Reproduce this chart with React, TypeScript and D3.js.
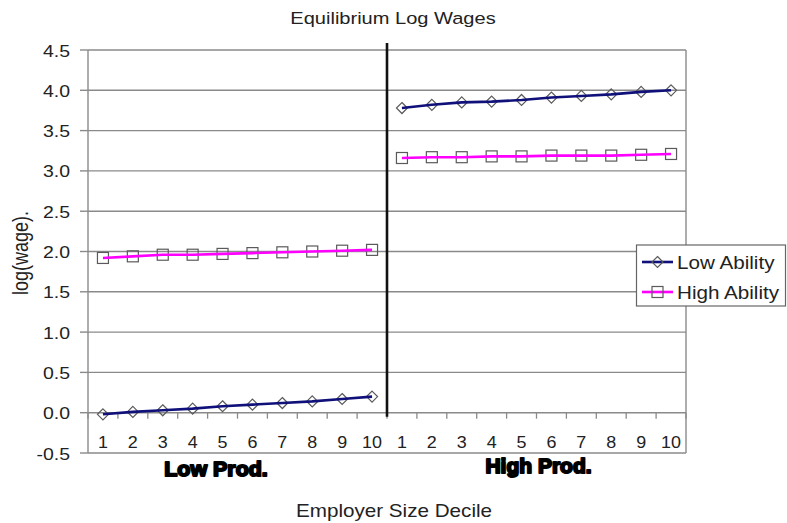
import React from "react";
import * as d3 from "d3";

const deciles = ["1", "2", "3", "4", "5", "6", "7", "8", "9", "10"];
const panels = ["Low Prod.", "High Prod."];
const lowProdLowAbility = [-0.02, 0.01, 0.03, 0.05, 0.08, 0.1, 0.12, 0.14, 0.17, 0.2];
const lowProdHighAbility = [1.92, 1.94, 1.96, 1.96, 1.97, 1.98, 1.99, 2.0, 2.01, 2.02];
const highProdLowAbility = [3.78, 3.82, 3.85, 3.86, 3.88, 3.91, 3.93, 3.95, 3.98, 4.0];
const highProdHighAbility = [3.16, 3.17, 3.17, 3.18, 3.18, 3.19, 3.19, 3.19, 3.2, 3.21];
const yTicks = [-0.5, 0, 0.5, 1, 1.5, 2, 2.5, 3, 3.5, 4, 4.5];
const seriesNames = ["Low Ability", "High Ability"];

const W = 787;
const H = 523;
const FONT = "'Liberation Sans', Arial, sans-serif";
const NAVY = "#10107a";
const MAGENTA = "#ff00ff";
const GRID = "#8a8a8a";
const MARK = "#5a5a5a";

const keys = [...deciles.map((d) => "L" + d), ...deciles.map((d) => "H" + d)];

function T(props: any) {
  const { x, y, size, anchor = "start", weight = 400, sx = 1.18, children, fill = "#222", stroke, sw } = props;
  return (
    <text
      transform={`translate(${x},${y}) scale(${sx},1)`}
      fontSize={size}
      fontFamily={FONT}
      fontWeight={weight}
      textAnchor={anchor}
      fill={fill}
      stroke={stroke}
      strokeWidth={sw}
      strokeLinejoin="round"
    >
      {children}
    </text>
  );
}

function Diamond({ cx, cy }: { cx: number; cy: number }) {
  const r = 5.5;
  return (
    <path
      d={`M${cx},${cy - r}L${cx + r},${cy}L${cx},${cy + r}L${cx - r},${cy}Z`}
      fill="none"
      stroke={MARK}
      strokeWidth={1.2}
    />
  );
}
function Square({ cx, cy }: { cx: number; cy: number }) {
  const r = 5.5;
  return <rect x={cx - r} y={cy - r} width={2 * r} height={2 * r} fill="none" stroke={MARK} strokeWidth={1.2} />;
}

export default function App() {
  const x = d3.scaleBand<string>().domain(keys).range([88, 686]).padding(0);
  const y = d3.scaleLinear().domain([-0.5, 4.5]).range([453, 50]);
  const cx = (k: string) => (x(k) as number) + x.bandwidth() / 2;

  const line = d3
    .line<[string, number]>()
    .x((d) => cx(d[0]))
    .y((d) => y(d[1]));

  const series = [
    { keys: deciles.map((d) => "L" + d), vals: lowProdLowAbility, color: NAVY, m: "d" },
    { keys: deciles.map((d) => "H" + d), vals: highProdLowAbility, color: NAVY, m: "d" },
    { keys: deciles.map((d) => "L" + d), vals: lowProdHighAbility, color: MAGENTA, m: "s" },
    { keys: deciles.map((d) => "H" + d), vals: highProdHighAbility, color: MAGENTA, m: "s" },
  ];

  const left = x.range()[0];
  const right = x.range()[1];
  const divX = x("H1") as number;
  const boundaries = d3.range(0, keys.length + 1).map((i) => left + i * x.bandwidth());

  return (
    <svg width={W} height={H} style={{ position: "absolute", left: 0, top: 0, background: "#fff" }}>
      <rect width={W} height={H} fill="#fff" />
      {yTicks.map((t) => (
        <line key={t} x1={left} x2={right} y1={y(t)} y2={y(t)} stroke={GRID} strokeWidth={1.4} />
      ))}
      {yTicks.map((t) => (
        <line key={"yt" + t} x1={left - 8} x2={left} y1={y(t)} y2={y(t)} stroke={GRID} strokeWidth={1.4} />
      ))}
      <line x1={left} x2={left} y1={y(4.5)} y2={y(-0.5)} stroke={GRID} strokeWidth={1.4} />
      <line x1={right} x2={right} y1={y(4.5)} y2={y(-0.5)} stroke={GRID} strokeWidth={1.4} />
      {boundaries.map((b, i) => (
        <line key={"xt" + i} x1={b} x2={b} y1={y(0)} y2={y(0) + 6} stroke={GRID} strokeWidth={1.3} />
      ))}
      <line x1={divX} x2={divX} y1={y(4.5) - 7} y2={y(0) + 4} stroke="#111" strokeWidth={2.6} />
      {yTicks.map((t) => (
        <T key={"yl" + t} x={70} y={y(t) + 6.5} size={16.5} anchor="end">
          {t.toFixed(1)}
        </T>
      ))}
      {keys.map((k) => (
        <T key={"xl" + k} x={cx(k)} y={447.5} size={16} anchor="middle" sx={1.12}>
          {k.slice(1)}
        </T>
      ))}
      <T x={216} y={476} size={21} weight={900} anchor="middle" sx={1.02} fill="#000" stroke="#000" sw={2}>
        {panels[0]}
      </T>
      <T x={538.5} y={473} size={21} weight={900} anchor="middle" sx={1.0} fill="#000" stroke="#000" sw={2}>
        {panels[1]}
      </T>
      {series.map((s, i) => {
        const pts = s.keys.map((k, j) => [k, s.vals[j]] as [string, number]);
        return (
          <g key={"s" + i}>
            {pts.map((p, j) =>
              s.m === "d" ? (
                <Diamond key={j} cx={cx(p[0])} cy={y(p[1])} />
              ) : (
                <Square key={j} cx={cx(p[0])} cy={y(p[1])} />
              )
            )}
            <path d={line(pts) || ""} fill="none" stroke={s.color} strokeWidth={2.6} />
          </g>
        );
      })}
      <T x={393} y={24} size={17} anchor="middle">
        Equilibrium Log Wages
      </T>
      <T x={394} y={517} size={17.5} anchor="middle">
        Employer Size Decile
      </T>
      <text
        transform={`translate(28,253) rotate(-90) scale(1,1.18)`}
        fontSize={18}
        fontFamily={FONT}
        textAnchor="middle"
        fill="#222"
      >
        log(wage).
      </text>
      <rect x={636.5} y={245} width={149} height={61} fill="#fff" stroke="#666" strokeWidth={1.2} />
      <line x1={642} x2={673} y1={262} y2={262} stroke={NAVY} strokeWidth={2.6} />
      <Diamond cx={657.5} cy={262} />
      <T x={677} y={268.5} size={17.5}>
        {seriesNames[0]}
      </T>
      <line x1={642} x2={673} y1={292} y2={292} stroke={MAGENTA} strokeWidth={2.6} />
      <Square cx={657.5} cy={292} />
      <T x={677} y={298.5} size={17.5}>
        {seriesNames[1]}
      </T>
    </svg>
  );
}
